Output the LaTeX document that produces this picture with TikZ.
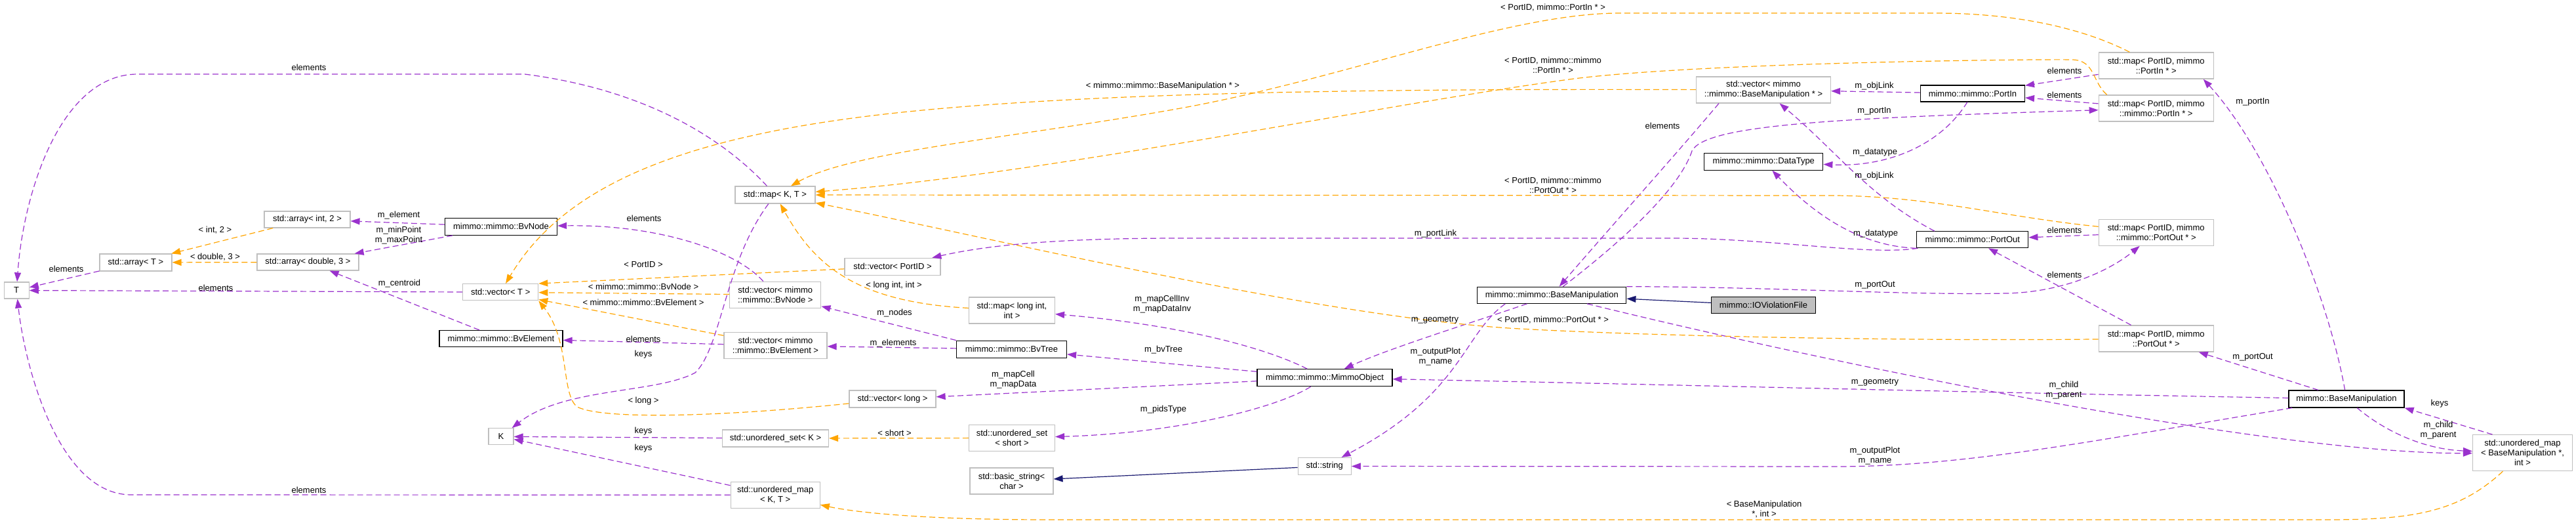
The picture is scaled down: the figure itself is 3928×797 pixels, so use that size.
\documentclass[tikz,border=0pt]{standalone}
\usepackage{fontspec}
\setmainfont{Liberation Sans}
\usetikzlibrary{arrows.meta}
\definecolor{cpurple}{HTML}{9A32CD}
\definecolor{corange}{HTML}{FFA500}
\definecolor{cblue}{HTML}{191970}
\definecolor{cgray}{HTML}{BFBFBF}
\newcommand{\dgf}{\fontsize{13}{15}\selectfont}
\tikzset{
  cls/.style={draw=cgray, line width=1.2pt, inner sep=0pt, align=center, font=\dgf, fill=white},
  mcls/.style={cls, draw=black},
  use/.style={color=cpurple, line width=1.2pt, dash pattern=on 9pt off 5pt, -{Triangle[length=14pt,width=10pt]}},
  tmpl/.style={use, color=corange},
  inh/.style={color=cblue, line width=1.2pt, solid, -{Triangle[length=14pt,width=10pt]}},
  lbl/.style={font=\dgf, inner sep=0pt, align=center, text=black},
}
\begin{document}
\begin{tikzpicture}[x=1pt, y=-1pt]
\fill[white] (0,0) rectangle (3928,797);
\useasboundingbox (0,0) rectangle (3928,797);

% ---------- nodes ----------
\node[cls, minimum width=38pt, minimum height=25pt] (T) at (25.2,442.5) {T};
\node[cls, minimum width=110pt, minimum height=26pt] (arrT) at (207,400) {std::array< T >};
\node[cls, minimum width=131pt, minimum height=25pt] (arrInt) at (468.5,334.5) {std::array< int, 2 >};
\node[cls, minimum width=155pt, minimum height=25pt] (arrDbl) at (469.5,399.5) {std::array< double, 3 >};
\node[mcls, minimum width=171pt, minimum height=26pt] (BvNode) at (764,345.3) {mimmo::mimmo::BvNode};
\node[mcls, minimum width=188pt, minimum height=25pt] (BvElem) at (764,516) {mimmo::mimmo::BvElement};
\node[cls, minimum width=115pt, minimum height=25pt] (vecT) at (763.2,445.2) {std::vector< T >};
\node[cls, minimum width=38pt, minimum height=25pt] (K) at (764,665.3) {K};
\node[cls, minimum width=122pt, minimum height=26pt] (mapKT) at (1182,297) {std::map< K, T >};
\node[cls, minimum width=146pt, minimum height=26pt] (vecPortID) at (1361,406.3) {std::vector< PortID >};
\node[cls, minimum width=139pt, minimum height=40pt] (vecBvNode) at (1182.3,449.2) {std::vector< mimmo\\::mimmo::BvNode >};
\node[cls, minimum width=157pt, minimum height=40pt] (vecBvElem) at (1182.5,526.7) {std::vector< mimmo\\::mimmo::BvElement >};
\node[cls, minimum width=132pt, minimum height=26pt] (vecLong) at (1361,608) {std::vector< long >};
\node[cls, minimum width=162pt, minimum height=26pt] (usetK) at (1182.5,668) {std::unordered\_set< K >};
\node[cls, minimum width=136pt, minimum height=40pt] (umapKT) at (1182.2,754.3) {std::unordered\_map\\< K, T >};
\node[cls, minimum width=131pt, minimum height=40pt] (mapLongInt) at (1543,473) {std::map< long int,\\int >};
\node[mcls, minimum width=168pt, minimum height=26pt] (BvTree) at (1542.5,532.2) {mimmo::mimmo::BvTree};
\node[cls, minimum width=131pt, minimum height=40pt] (usetShort) at (1543,667.5) {std::unordered\_set\\< short >};
\node[cls, minimum width=127pt, minimum height=40pt] (basicString) at (1542.5,733) {std::basic\_string<\\char >};
\node[mcls, minimum width=206pt, minimum height=26pt] (MimmoObject) at (2020,575.7) {mimmo::mimmo::MimmoObject};
\node[cls, minimum width=81pt, minimum height=26pt] (string) at (2019.7,710.5) {std::string};
\node[mcls, minimum width=227pt, minimum height=25pt] (BM) at (2366.3,449.8) {mimmo::mimmo::BaseManipulation};
\node[mcls, fill=cgray, minimum width=159pt, minimum height=25pt] (IOV) at (2689,465.2) {mimmo::IOViolationFile};
\node[cls, minimum width=205pt, minimum height=40pt] (vecBM) at (2689,137) {std::vector< mimmo\\::mimmo::BaseManipulation * >};
\node[mcls, minimum width=181pt, minimum height=26pt] (DataType) at (2689.3,246.2) {mimmo::mimmo::DataType};
\node[mcls, minimum width=159pt, minimum height=25pt] (PortIn) at (3007.9,142.5) {mimmo::mimmo::PortIn};
\node[mcls, minimum width=170pt, minimum height=25pt] (PortOut) at (3007.8,365.2) {mimmo::mimmo::PortOut};
\node[cls, minimum width=175pt, minimum height=40pt] (mapPortIn1) at (3287.7,100) {std::map< PortID, mimmo\\::PortIn * >};
\node[cls, minimum width=175pt, minimum height=40pt] (mapPortIn2) at (3287.7,165) {std::map< PortID, mimmo\\::mimmo::PortIn * >};
\node[cls, minimum width=175pt, minimum height=40pt] (mapPortOut2) at (3287.7,354.3) {std::map< PortID, mimmo\\::mimmo::PortOut * >};
\node[cls, minimum width=175pt, minimum height=40pt] (mapPortOut1) at (3287.7,516) {std::map< PortID, mimmo\\::PortOut * >};
\node[mcls, minimum width=176pt, minimum height=26pt] (mBM) at (3578,608) {mimmo::BaseManipulation};
\node[cls, minimum width=152pt, minimum height=55pt] (umapBM) at (3846.5,690.2) {std::unordered\_map\\< BaseManipulation *,\\int >};

% ---------- purple (usage) edges ----------
\draw[use] (mapKT) .. controls (1120,230) and (1010,140) .. (800,113) -- (210,113) .. controls (90,113) and (35,300) .. (T);
\draw[use] (arrT) -- (T);
\draw[use] (vecT) -- (T);
\draw[use] (BvNode) -- (arrInt);
\draw[use] (BvNode) -- (arrDbl);
\draw[use] (BvElem) -- (arrDbl);
\draw[use] (vecBvElem) -- (BvElem);
\draw[use] (vecBvNode) .. controls (1120,380) and (1000,342) .. (BvNode);
\draw[use] (mapKT) .. controls (1105,400) and (1100,530) .. (1060,568) .. controls (1000,600) and (860,590) .. (K);
\draw[use] (usetK) -- (K);
\draw[use] (umapKT) -- (K);
\draw[use] (umapKT) -- (200,754) .. controls (90,754) and (38,560) .. (T);
\draw[use] (BvTree.north west) -- (vecBvNode);
\draw[use] (BvTree) -- (vecBvElem);
\draw[use] (MimmoObject) -- (BvTree);
\draw[use] (MimmoObject) .. controls (1930,530) and (1800,495) .. (mapLongInt);
\draw[use] (MimmoObject) -- (vecLong);
\draw[use] (MimmoObject) .. controls (1950,620) and (1800,660) .. (usetShort);
\draw[use] (BM) .. controls (2250,490) and (2120,530) .. (MimmoObject);
\draw[use] ([xshift=-71pt]BM.south) .. controls (2230,510) and (2230,600) .. (string);
\draw[use] (mBM) .. controls (3000,598) and (2500,585) .. (MimmoObject);
\draw[use] (mBM) .. controls (3200,670) and (3000,711) .. (2800,711) -- (string);
\draw[use] ([xshift=-68pt]vecBM.south) .. controls (2560,230) and (2470,330) .. (BM);
\draw[use] (BM) .. controls (2470,370) and (2560,290) .. (2580,230) .. controls (2600,190) and (2800,180) .. (mapPortIn2);
\draw[use] (PortIn) -- (vecBM);
\draw[use] (PortIn) .. controls (2960,220) and (2880,255) .. (DataType);
\draw[use] ([xshift=-58pt]PortOut.north) .. controls (2850,300) and (2800,230) .. (vecBM);
\draw[use] (PortOut.south west) .. controls (2830,375) and (2760,320) .. (DataType);
\draw[use] (PortOut) .. controls (2850,390) and (2700,363) .. (2550,363) -- (1800,363) .. controls (1600,363) and (1500,375) .. (vecPortID);
\draw[use] (mapPortIn1) -- (PortIn);
\draw[use] (mapPortIn2) -- (PortIn);
\draw[use] (mapPortOut2) -- (PortOut);
\draw[use] (mapPortOut1) -- (PortOut);
\draw[use] (BM.north east) .. controls (2700,437) and (2900,450) .. (3060,447) .. controls (3150,445) and (3220,410) .. (mapPortOut2);
\draw[use] (BM) .. controls (2900,580) and (3500,692) .. (umapBM);
\draw[use] (mBM) -- (mapPortOut1);
\draw[use] (mBM) .. controls (3550,450) and (3460,230) .. ([xshift=72pt]mapPortIn1.south);
\draw[use] ([xshift=-46pt]umapBM.north) -- (mBM.south east);
\draw[use] (mBM) .. controls (3640,660) and (3700,685) .. (umapBM);

% ---------- orange (template) edges ----------
\draw[tmpl] (arrInt) -- (arrT);
\draw[tmpl] (arrDbl) -- (arrT);
\draw[tmpl] (vecBvNode) -- (vecT);
\draw[tmpl] (vecBvElem) -- (vecT);
\draw[tmpl] (vecPortID) -- (vecT.north east);
\draw[tmpl] (vecLong) .. controls (1100,635) and (920,640) .. (880,620) .. controls (855,600) and (870,520) .. (vecT.south east);
\draw[tmpl] (vecBM) .. controls (2100,135) and (1600,140) .. (1300,180) .. controls (1000,220) and (850,300) .. (vecT);
\draw[tmpl] (mapLongInt) .. controls (1300,460) and (1240,400) .. (mapKT);
\draw[tmpl] (usetShort) -- (usetK);
\draw[tmpl] (umapBM) .. controls (3750,780) and (3680,792) .. (3550,792) -- (1600,792) .. controls (1400,792) and (1300,780) .. (umapKT);
\draw[tmpl] (mapPortIn1) .. controls (3180,45) and (3080,20) .. (2950,20) -- (2470,20) .. controls (2300,20) and (2050,120) .. (1800,165) .. controls (1550,210) and (1300,230) .. (mapKT);
\draw[tmpl] ([xshift=-75pt]mapPortIn2.north) .. controls (3190,125) and (3195,92) .. (3160,91) .. controls (3100,90) and (2600,95) .. (2400,120) .. controls (2100,160) and (1600,265) .. (mapKT);
\draw[tmpl] (mapPortOut2) .. controls (3050,330) and (2950,300) .. (2800,298) -- (mapKT);
\draw[tmpl] (mapPortOut1) .. controls (2900,520) and (2500,512) .. (2300,500) .. controls (2000,480) and (1500,360) .. (mapKT);

% ---------- inheritance ----------
\draw[inh] (IOV) -- (BM);
\draw[inh] (string) -- (basicString);

% ---------- labels ----------
\node[lbl] (l1) at (471,103) {elements};
\node[lbl] (l2) at (101,410) {elements};
\node[lbl] (l3) at (329,439) {elements};
\node[lbl] (l4) at (328,351) {< int, 2 >};
\node[lbl] (l5) at (328,392) {< double, 3 >};
\node[lbl] (l6) at (608,328) {m\_element};
\node[lbl] (l7) at (608,359) {m\_minPoint\\m\_maxPoint};
\node[lbl] (l8) at (609,432) {m\_centroid};
\node[lbl] (l9) at (982,333) {elements};
\node[lbl] (l10) at (981,403) {< PortID >};
\node[lbl] (l11) at (981,437) {< mimmo::mimmo::BvNode >};
\node[lbl] (l12) at (981,461) {< mimmo::mimmo::BvElement >};
\node[lbl] (l13) at (981,517) {elements};
\node[lbl] (l14) at (981,540) {keys};
\node[lbl] (l15) at (981,611) {< long >};
\node[lbl] (l16) at (981,657) {keys};
\node[lbl] (l17) at (981,683) {keys};
\node[lbl] (l18) at (471,747) {elements};
\node[lbl] (l19) at (1363,435) {< long int, int >};
\node[lbl] (l20) at (1364,477) {m\_nodes};
\node[lbl] (l21) at (1362,523) {m\_elements};
\node[lbl] (l22) at (1545,579) {m\_mapCell\\m\_mapData};
\node[lbl] (l23) at (1364,660) {< short >};
\node[lbl] (l24) at (1772,464) {m\_mapCellInv\\m\_mapDataInv};
\node[lbl] (l25) at (1774,533) {m\_bvTree};
\node[lbl] (l26) at (1774,624) {m\_pidsType};
\node[lbl] (l27) at (2188,488) {m\_geometry};
\node[lbl] (l28) at (2189,544) {m\_outputPlot\\m\_name};
\node[lbl] (l29) at (1773,131) {< mimmo::mimmo::BaseManipulation * >};
\node[lbl] (l30) at (2368,12) {< PortID, mimmo::PortIn * >};
\node[lbl] (l31) at (2368,99) {< PortID, mimmo::mimmo\\::PortIn * >};
\node[lbl] (l32) at (2368,282) {< PortID, mimmo::mimmo\\::PortOut * >};
\node[lbl] (l33) at (2189,356) {m\_portLink};
\node[lbl] (l34) at (2535,192) {elements};
\node[lbl] (l35) at (2858,131) {m\_objLink};
\node[lbl] (l36) at (2858,169) {m\_portIn};
\node[lbl] (l37) at (2859,232) {m\_datatype};
\node[lbl] (l38) at (2858,268) {m\_objLink};
\node[lbl] (l39) at (2860,356) {m\_datatype};
\node[lbl] (l40) at (3148,108) {elements};
\node[lbl] (l41) at (3148,145) {elements};
\node[lbl] (l42) at (3148,351) {elements};
\node[lbl] (l43) at (3148,419) {elements};
\node[lbl] (l44) at (3435,155) {m\_portIn};
\node[lbl] (l45) at (2859,434) {m\_portOut};
\node[lbl] (l46) at (2368,488) {< PortID, mimmo::PortOut * >};
\node[lbl] (l47) at (2859,583) {m\_geometry};
\node[lbl] (l48) at (3147,595) {m\_child\\m\_parent};
\node[lbl] (l49) at (2859,695) {m\_outputPlot\\m\_name};
\node[lbl] (l50) at (2690,776) {< BaseManipulation\\*, int >};
\node[lbl] (l51) at (3435,544) {m\_portOut};
\node[lbl] (l52) at (3720,615) {keys};
\node[lbl] (l53) at (3718,656) {m\_child\\m\_parent};
\end{tikzpicture}
\end{document}
